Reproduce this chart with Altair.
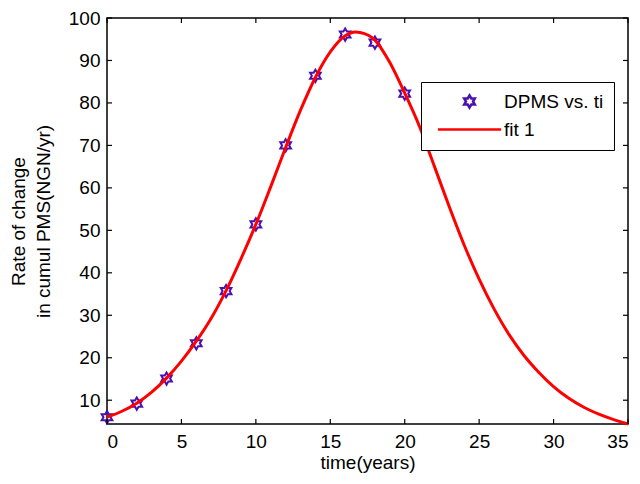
import altair as alt
import pandas as pd

# observed data (DPMS vs. ti)
t_obs = [0, 2, 4, 6, 8, 10, 12, 14, 16, 18, 20]
dpms = [6.0, 9.2, 15.1, 23.4, 35.7, 51.4, 70.0, 86.4, 96.1, 94.2, 82.2]

# fitted curve (fit 1)
t_fit = [0, 1, 2, 3, 4, 5, 6, 7, 8, 9, 10, 11, 12, 13, 14, 15, 16, 16.7, 17, 18,
         19, 20, 21, 22, 23, 24, 25, 26, 27, 28, 29, 30, 31, 32, 33, 34, 35]
fit = [6.0, 7.4, 9.3, 11.9, 15.2, 19.2, 23.9, 29.3, 35.8, 43.3, 51.4, 60.3, 69.5,
       78.3, 86.0, 92.0, 95.8, 96.7, 96.6, 94.8, 89.5, 82.3, 74.4, 65.0, 55.5,
       46.5, 38.5, 31.5, 25.5, 20.6, 16.6, 13.2, 10.5, 8.4, 6.8, 5.5, 4.4]

x_ticks = [0, 5, 10, 15, 20, 25, 30, 35]
y_ticks = [10, 20, 30, 40, 50, 60, 70, 80, 90, 100]
series = ["DPMS vs. ti", "fit 1"]

W, H = 521, 406
FONT = "Liberation Sans"
FS = 19
HEX = ("M0,-1L0.289,-0.5L0.866,-0.5L0.577,0L0.866,0.5L0.289,0.5L0,1"
       "L-0.289,0.5L-0.866,0.5L-0.577,0L-0.866,-0.5L-0.289,-0.5Z")
LINE_SYM = "M-5.16,0L5.16,0"

obs_df = pd.DataFrame({"t": t_obs, "v": dpms, "series": series[0]})
fit_df = pd.DataFrame({"t": t_fit, "v": fit, "series": series[1]})
xt_df = pd.DataFrame({"t": x_ticks})
yt_df = pd.DataFrame({"v": y_ticks})

xs = alt.Scale(domain=[0, 35], nice=False, zero=False)
ys = alt.Scale(domain=[4.4, 100], nice=False, zero=False)

x_axis = alt.Axis(values=x_ticks, ticks=False, domain=False, grid=False,
                  labelFont=FONT, labelFontSize=FS, labelColor="black",
                  labelPadding=8, title="time(years)", titleFont=FONT,
                  titleFontSize=FS, titleFontWeight="normal", titleColor="black",
                  titleBaseline="alphabetic", titleY=44)
y_axis = alt.Axis(values=y_ticks, ticks=False, domain=False, grid=False,
                  labelFont=FONT, labelFontSize=FS, labelColor="black",
                  labelPadding=7,
                  title=["Rate of change", "in cumul PMS(NGN/yr)"],
                  titleFont=FONT, titleFontSize=FS, titleFontWeight="normal",
                  titleColor="black", titleAngle=270, titleBaseline="top",
                  titleAlign="center", titleX=-98, titleY=H / 2,
                  titleLineHeight=25)

leg = alt.Legend(title=None, orient="none", legendX=314, legendY=64)
color_scale = alt.Scale(domain=series, range=["#4b10b0", "#ff0000"])
shape_scale = alt.Scale(domain=series, range=[HEX, LINE_SYM])

points = alt.Chart(obs_df).mark_point(filled=False, strokeWidth=2, opacity=1,
                                      size=150).encode(
    x=alt.X("t:Q", scale=xs, axis=x_axis),
    y=alt.Y("v:Q", scale=ys, axis=y_axis),
    color=alt.Color("series:N", scale=color_scale, legend=leg),
    shape=alt.Shape("series:N", scale=shape_scale, legend=leg),
)

line = alt.Chart(fit_df).mark_line(strokeWidth=3, interpolate="monotone").encode(
    x=alt.X("t:Q", scale=xs),
    y=alt.Y("v:Q", scale=ys),
    color=alt.Color("series:N", scale=color_scale, legend=leg),
)

tick_bottom = alt.Chart(xt_df).mark_rule(color="black", strokeWidth=1.2).encode(
    x=alt.X("t:Q", scale=xs), y=alt.value(H), y2=alt.value(H - 5))
tick_top = alt.Chart(xt_df).mark_rule(color="black", strokeWidth=1.2).encode(
    x=alt.X("t:Q", scale=xs), y=alt.value(0), y2=alt.value(5))
tick_left = alt.Chart(yt_df).mark_rule(color="black", strokeWidth=1.2).encode(
    y=alt.Y("v:Q", scale=ys), x=alt.value(0), x2=alt.value(5))
tick_right = alt.Chart(yt_df).mark_rule(color="black", strokeWidth=1.2).encode(
    y=alt.Y("v:Q", scale=ys), x=alt.value(W), x2=alt.value(W - 5))

chart = alt.layer(points, line, tick_bottom, tick_top, tick_left, tick_right).properties(
    width=W, height=H,
    autosize=alt.AutoSizeParams(type="none"),
    padding={"left": 99, "top": 10, "right": 4, "bottom": 50},
    background="white",
).configure_view(
    stroke="black", strokeWidth=1.5
).configure_legend(
    strokeColor="black", fillColor="white", padding=10, rowPadding=7,
    labelFont=FONT, labelFontSize=FS, labelColor="black", labelOffset=25,
    symbolOffset=29, symbolStrokeWidth=2.5, symbolSize=150, cornerRadius=0,
    labelLimit=300,
)

chart.save("out.html", embed_options={"renderer": "svg", "actions": False})
